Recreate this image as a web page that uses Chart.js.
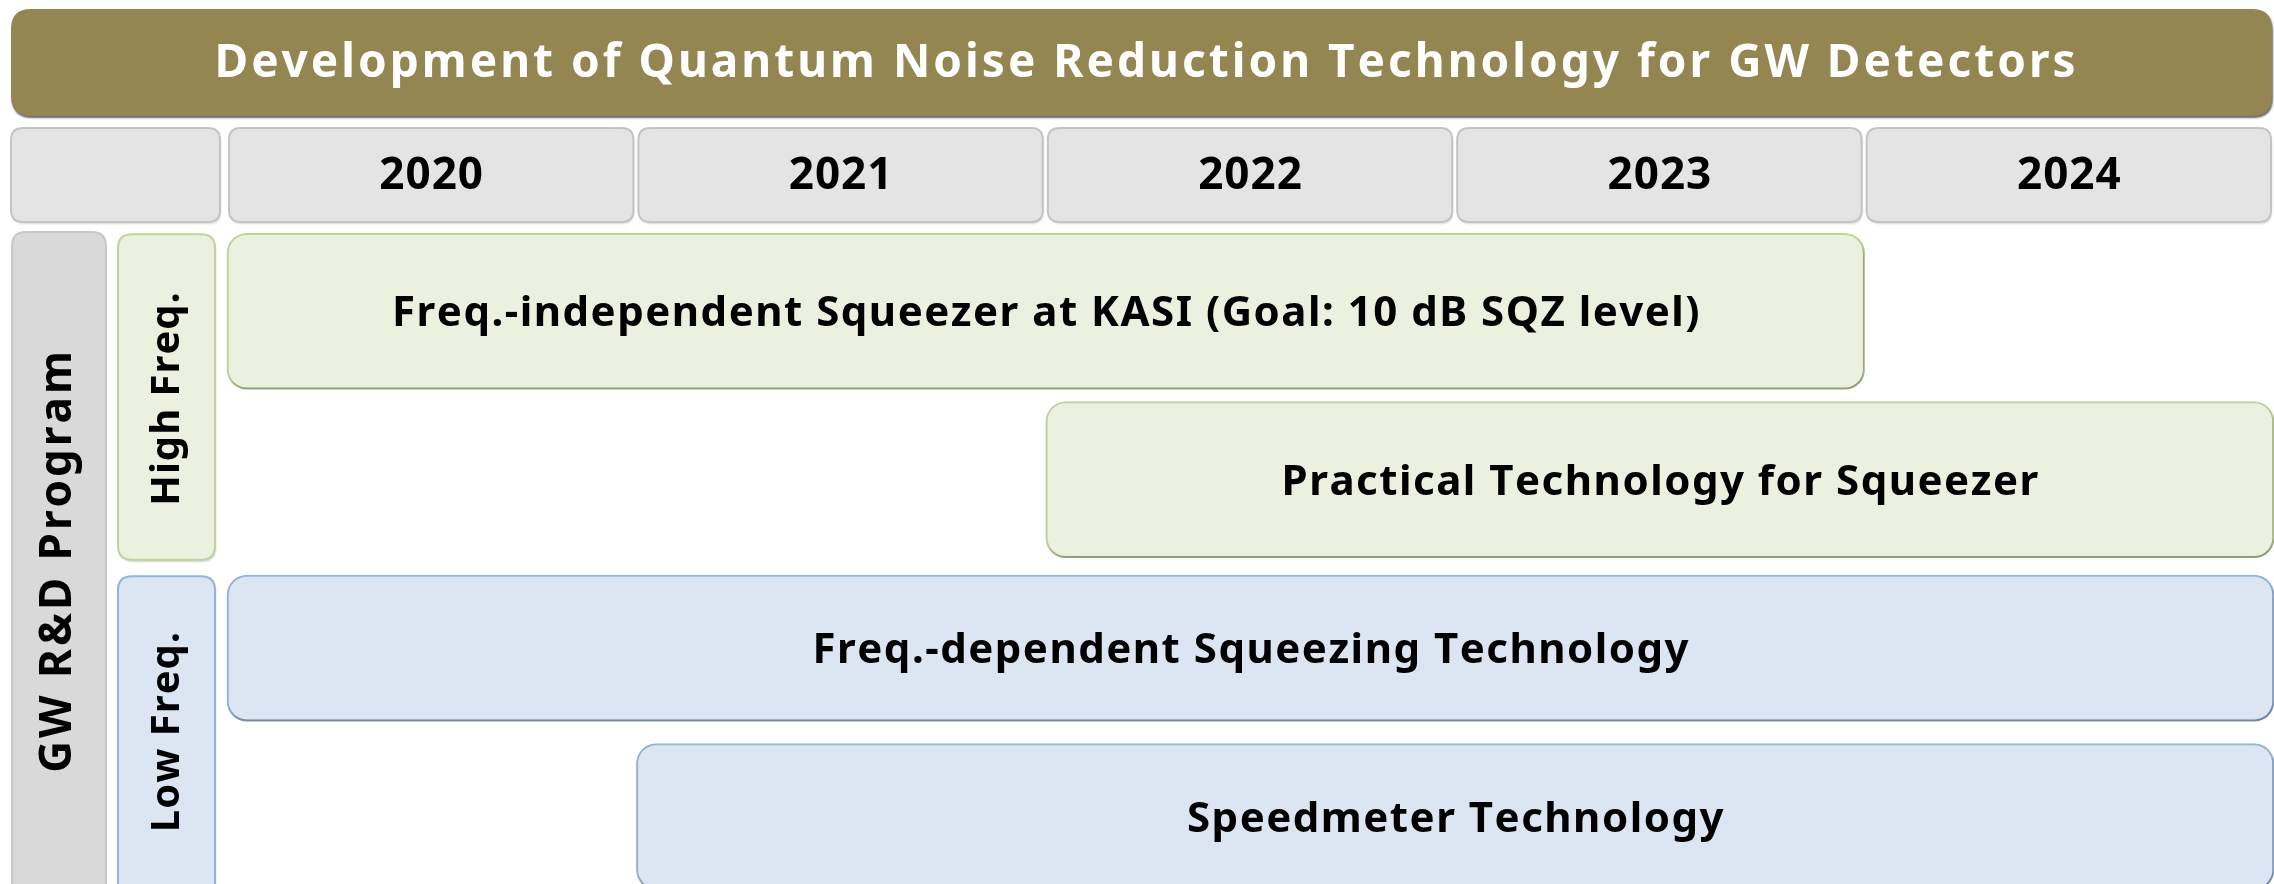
<!DOCTYPE html>
<html>
<head>
<meta charset="utf-8">
<script src="https://cdn.jsdelivr.net/npm/chart.js@4.4.1/dist/chart.umd.min.js"></script>
<style>
  html, body { margin: 0; padding: 0; background: #fff; overflow: hidden; }
  #chart { display: block; }
</style>
</head>
<body>
<canvas id="chart" width="2274" height="884"></canvas>
<script>
// chart data
const chartTitle = 'Development of Quantum Noise Reduction Technology for GW Detectors';
const years = [2020, 2021, 2022, 2023, 2024];
const programLabel = 'GW R&D Program';
const groups = ['High Freq.', 'Low Freq.'];
const tasks = [
  'Freq.-independent Squeezer at KASI (Goal: 10 dB SQZ level)',
  'Practical Technology for Squeezer',
  'Freq.-dependent Squeezing Technology',
  'Speedmeter Technology'
];
const taskGroup = [0, 0, 1, 1];
const taskStart = [2020, 2022, 2020, 2021];
const taskEnd = [2024, 2025, 2025, 2025];

// look
const groupFill = ['#ebf0df', '#dce6f2'];
const groupBorder = ['#bfd498', '#95b3d7'];
const groupThickness = [156, 146];
const FONT = '"Noto Sans", "DejaVu Sans", sans-serif';

function roundRect(ctx, x, y, w, h, r) {
  ctx.beginPath();
  ctx.moveTo(x + r, y);
  ctx.lineTo(x + w - r, y);
  ctx.quadraticCurveTo(x + w, y, x + w, y + r);
  ctx.lineTo(x + w, y + h - r);
  ctx.quadraticCurveTo(x + w, y + h, x + w - r, y + h);
  ctx.lineTo(x + r, y + h);
  ctx.quadraticCurveTo(x, y + h, x, y + h - r);
  ctx.lineTo(x, y + r);
  ctx.quadraticCurveTo(x, y, x + r, y);
  ctx.closePath();
}

function box(ctx, x, y, w, h, r, fill, stroke, shadow) {
  ctx.save();
  if (shadow) {
    ctx.shadowColor = shadow;
    ctx.shadowOffsetX = 1;
    ctx.shadowOffsetY = 2;
    ctx.shadowBlur = 2;
  }
  roundRect(ctx, x, y, w, h, r);
  ctx.fillStyle = fill;
  ctx.fill();
  ctx.restore();
  if (stroke) {
    roundRect(ctx, x, y, w, h, r);
    ctx.lineWidth = 2;
    ctx.strokeStyle = stroke;
    ctx.stroke();
  }
}

// text with extra letter spacing, centred on cx
function spacedText(ctx, text, cx, cy, spacing) {
  const chars = Array.from(text);
  let total = spacing * (chars.length - 1);
  chars.forEach(c => { total += ctx.measureText(c).width; });
  let x = cx - total / 2;
  ctx.textAlign = 'left';
  ctx.textBaseline = 'middle';
  chars.forEach(c => {
    ctx.fillText(c, x, cy);
    x += ctx.measureText(c).width + spacing;
  });
}

const ganttDecor = {
  id: 'ganttDecor',
  beforeDatasetsDraw(chart) {
    const ctx = chart.ctx;
    const xs = chart.scales.x, ys = chart.scales.y;
    const W = chart.width, H = chart.height;

    // title bar
    box(ctx, 11, 9, W - 13, 107, 20, '#938651', null, 'rgba(0,0,0,0.6)');
    ctx.fillStyle = '#ffffff';
    ctx.font = 'bold 46px ' + FONT;
    spacedText(ctx, chartTitle, 1145, 64, 3);

    // year header row
    box(ctx, 11, 128, 209, 94, 12, '#e4e4e4', '#c4c4c4', 'rgba(0,0,0,0.15)');
    years.forEach(yr => {
      const l = xs.getPixelForValue(yr) + 2;
      const r = xs.getPixelForValue(yr + 1) - 3;
      box(ctx, l, 128, r - l, 94, 12, '#e4e4e4', '#c4c4c4', 'rgba(0,0,0,0.15)');
      ctx.fillStyle = '#000';
      ctx.font = 'bold 44px ' + FONT;
      spacedText(ctx, String(yr), (l + r) / 2, 176, 1);
    });

    // program column
    box(ctx, 12, 232, 94, H, 14, '#d9d9d9', '#c8c8c8', null);
    ctx.save();
    ctx.translate(58, 562);
    ctx.rotate(-Math.PI / 2);
    ctx.fillStyle = '#000';
    ctx.font = 'bold 44px ' + FONT;
    spacedText(ctx, programLabel, 0, 0, 3);
    ctx.restore();

    // group columns, spanning their task rows
    groups.forEach((g, gi) => {
      const rows = tasks.map((t, i) => i).filter(i => taskGroup[i] === gi);
      const half = groupThickness[gi] / 2;
      const top = ys.getPixelForValue(rows[0]) - half + 1;
      let bottom = ys.getPixelForValue(rows[rows.length - 1]) + half + 2;
      if (gi === groups.length - 1) bottom = H + 20;
      box(ctx, 118, top, 97, bottom - top, 14, groupFill[gi], groupBorder[gi], 'rgba(0,0,0,0.2)');
      ctx.save();
      ctx.translate(168, (top + Math.min(bottom, H)) / 2 + 2);
      ctx.rotate(-Math.PI / 2);
      ctx.fillStyle = '#000';
      ctx.font = 'bold 40px ' + FONT;
      spacedText(ctx, g, 0, 0, 1);
      ctx.restore();
    });

    // soft shadow under the task bars
    ctx.save();
    ctx.shadowColor = 'rgba(0,0,0,0.28)';
    ctx.shadowOffsetX = 1;
    ctx.shadowOffsetY = 2;
    ctx.shadowBlur = 2;
  },
  afterDatasetsDraw(chart) {
    const ctx = chart.ctx;
    ctx.restore();
    ctx.fillStyle = '#000';
    ctx.font = 'bold 42px ' + FONT;
    chart.data.datasets.forEach((ds, di) => {
      chart.getDatasetMeta(di).data.forEach((bar, j) => {
        const cx = (bar.x + bar.base) / 2;
        spacedText(ctx, ds.data[j].label, cx, bar.y + 3, 1.5);
      });
    });
  }
};

const datasets = groups.map((g, gi) => ({
  label: g,
  data: tasks
    .map((t, i) => ({ x: [taskStart[i], taskEnd[i]], y: i, label: t }))
    .filter((d, i) => taskGroup[i] === gi),
  backgroundColor: groupFill[gi],
  borderColor: groupBorder[gi],
  borderWidth: 2,
  borderSkipped: false,
  borderRadius: 20,
  barThickness: groupThickness[gi],
  grouped: false,
  clip: false
}));

new Chart(document.getElementById('chart'), {
  type: 'bar',
  data: { datasets },
  options: {
    indexAxis: 'y',
    responsive: false,
    animation: false,
    layout: { padding: { left: 227, right: 0, top: 227, bottom: 0 } },
    plugins: {
      legend: { display: false },
      tooltip: { enabled: false }
    },
    scales: {
      x: { type: 'linear', min: years[0], max: years[years.length - 1] + 1, offset: false, display: false },
      y: { type: 'linear', min: -0.5, max: 3.4, reverse: true, offset: false, display: false }
    }
  },
  plugins: [ganttDecor]
});
</script>
</body>
</html>
